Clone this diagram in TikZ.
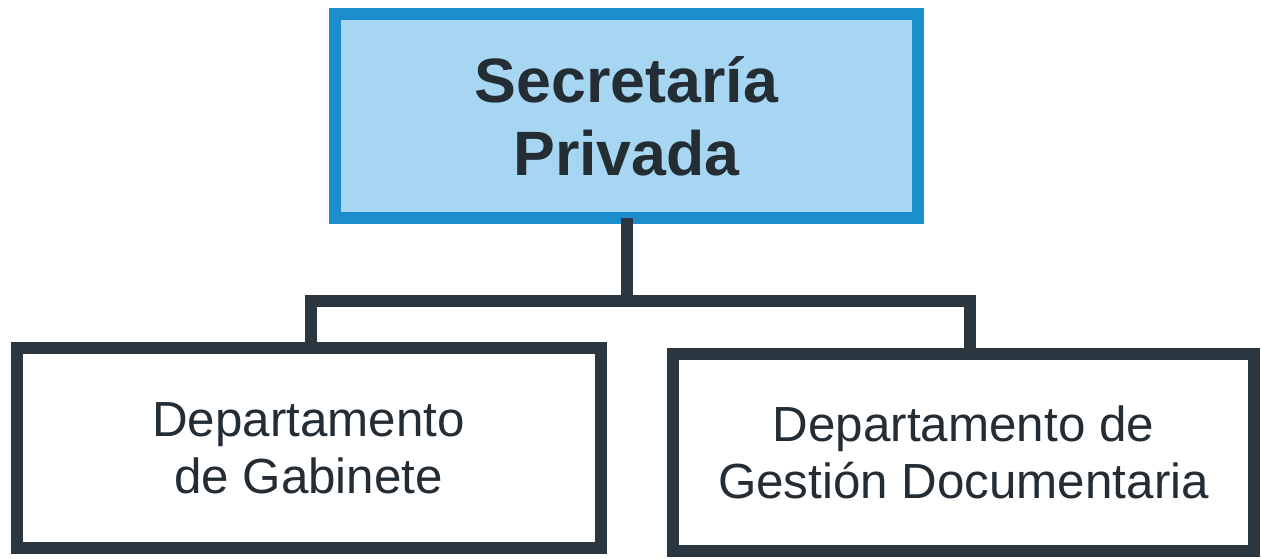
\documentclass[tikz,border=0pt]{standalone}
\usepackage{fontspec}
\setmainfont{Liberation Sans}
\definecolor{topfill}{RGB}{166,214,242}
\definecolor{topdraw}{RGB}{28,142,206}
\definecolor{darkline}{RGB}{42,55,64}
\definecolor{txt}{RGB}{36,44,52}
\tikzset{
  topbox/.style={draw=topdraw, fill=topfill, line width=9pt, rectangle, outer sep=0pt,
    minimum width=437pt, minimum height=153pt, align=center, text=txt,
    font=\fontsize{47}{55}\selectfont\bfseries},
  deptbox/.style={draw=darkline, fill=white, line width=9pt, rectangle, outer sep=0pt,
    minimum width=437pt, minimum height=150pt, align=center, text=txt,
    font=\fontsize{37}{43}\selectfont},
  conn/.style={draw=darkline, line width=9pt, line join=miter}
}
\begin{document}
\begin{tikzpicture}[x=0.75pt,y=-0.75pt]
\useasboundingbox (0,0) rectangle (1261,559);
\fill[white] (0,0) rectangle (1261,559);
\node[topbox] (top) at (626.5,116) {Secretaría\\Privada};
\node[deptbox, minimum width=438pt] (lbox) at (308.5,448.5) {Departamento\\de Gabinete};
\node[deptbox, minimum width=436pt, minimum height=148pt] (rbox) at (963.5,452.5) {Departamento de\\Gestión Documentaria};
\coordinate (bl) at (311,301);
\coordinate (br) at (970,301);
\draw[conn] (top.south) -- (top.south |- bl);
\draw[conn] (lbox.north -| bl) -- (bl) -- (br) -- (rbox.north -| br);
\end{tikzpicture}
\end{document}
